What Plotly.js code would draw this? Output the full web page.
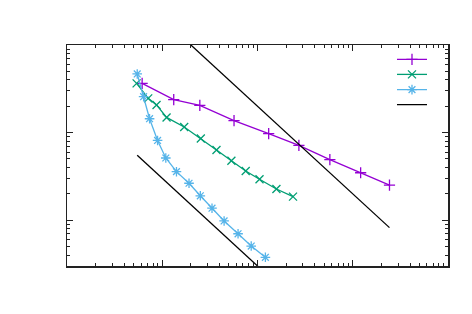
<!DOCTYPE html>
<html>
<head>
<meta charset="utf-8">
<script src="https://cdn.plot.ly/plotly-3.0.1.min.js"></script>
<style>html,body{margin:0;padding:0;background:#fff;}#chart{width:472px;height:314px;}</style>
</head>
<body>
<div id="chart"></div>
<script>
// Series 1 (+)
const xPurple = [6.15, 13.2, 24.8, 56.7, 131, 272, 575, 1210, 2430];
const yPurple = [36.5, 23.8, 20.5, 13.7, 9.71, 7.16, 4.91, 3.48, 2.52];
// Series 2 (x)
const xGreen = [5.38, 7.12, 8.71, 11.1, 17.0, 25.4, 37.1, 53.2, 75.2, 105, 158, 236];
const yGreen = [36.5, 24.6, 20.7, 14.9, 11.6, 8.57, 6.33, 4.78, 3.65, 2.93, 2.27, 1.86];
// Series 3 (*)
const xBlue = [5.46, 6.37, 7.36, 8.93, 10.9, 14.1, 19.1, 25.1, 33.3, 44.6, 62.5, 85.9, 121];
const yBlue = [46.7, 25.7, 14.4, 8.13, 5.13, 3.58, 2.64, 1.90, 1.37, 0.98, 0.70, 0.507, 0.377];
// Reference slope lines (two segments, one legend entry)
const xRef = [6.15, 2430, null, 5.46, 121];
const yRef = [325, 0.823, null, 5.5, 0.248];

const names = [' ', ' ', ' ', ' '];

const mk = (sym, col) => ({symbol: sym, size: 8, color: col, line: {width: 1.3, color: col}});

const traces = [
  {x: xPurple, y: yPurple, name: names[0], mode: 'lines+markers', legend: 'legend',
   line: {color: '#9400d3', width: 1.3}, marker: mk('cross-thin', '#9400d3')},
  {x: xGreen, y: yGreen, name: names[1], mode: 'lines+markers', legend: 'legend2',
   line: {color: '#009e73', width: 1.3}, marker: mk('x-thin', '#009e73')},
  {x: xBlue, y: yBlue, name: names[2], mode: 'lines+markers', legend: 'legend3',
   line: {color: '#56b4e9', width: 1.3}, marker: mk('asterisk', '#56b4e9')},
  {x: xRef, y: yRef, name: names[3], mode: 'lines', legend: 'legend4', connectgaps: false,
   line: {color: '#000000', width: 1.3}}
];

const legBase = (y) => ({x: 0.853, y: y, xanchor: 'left', yanchor: 'middle',
  bgcolor: 'rgba(0,0,0,0)', borderwidth: 0, font: {size: 10, family: 'DejaVu Sans'}, itemwidth: 30});

const axBase = {
  type: 'log', showgrid: false, zeroline: false, showticklabels: false,
  showline: true, linecolor: '#222', linewidth: 1.5, mirror: 'ticks',
  ticks: 'inside', ticklen: 6, tickwidth: 1, tickcolor: '#222', dtick: 1,
  minor: {dtick: 'D1', ticks: 'inside', ticklen: 3, tickwidth: 1, tickcolor: '#222', showgrid: false}
};

const layout = {
  width: 472, height: 314,
  margin: {l: 67, r: 24, t: 45, b: 48, pad: 0},
  paper_bgcolor: '#fff', plot_bgcolor: '#fff',
  showlegend: true,
  xaxis: Object.assign({}, axBase, {range: [0, 4]}),
  yaxis: Object.assign({}, axBase, {range: [Math.log10(0.3), 2]}),
  legend: legBase(0.935),
  legend2: legBase(0.867),
  legend3: legBase(0.798),
  legend4: legBase(0.730)
};

Plotly.newPlot('chart', traces, layout, {displayModeBar: false, staticPlot: true});
</script>
</body>
</html>
